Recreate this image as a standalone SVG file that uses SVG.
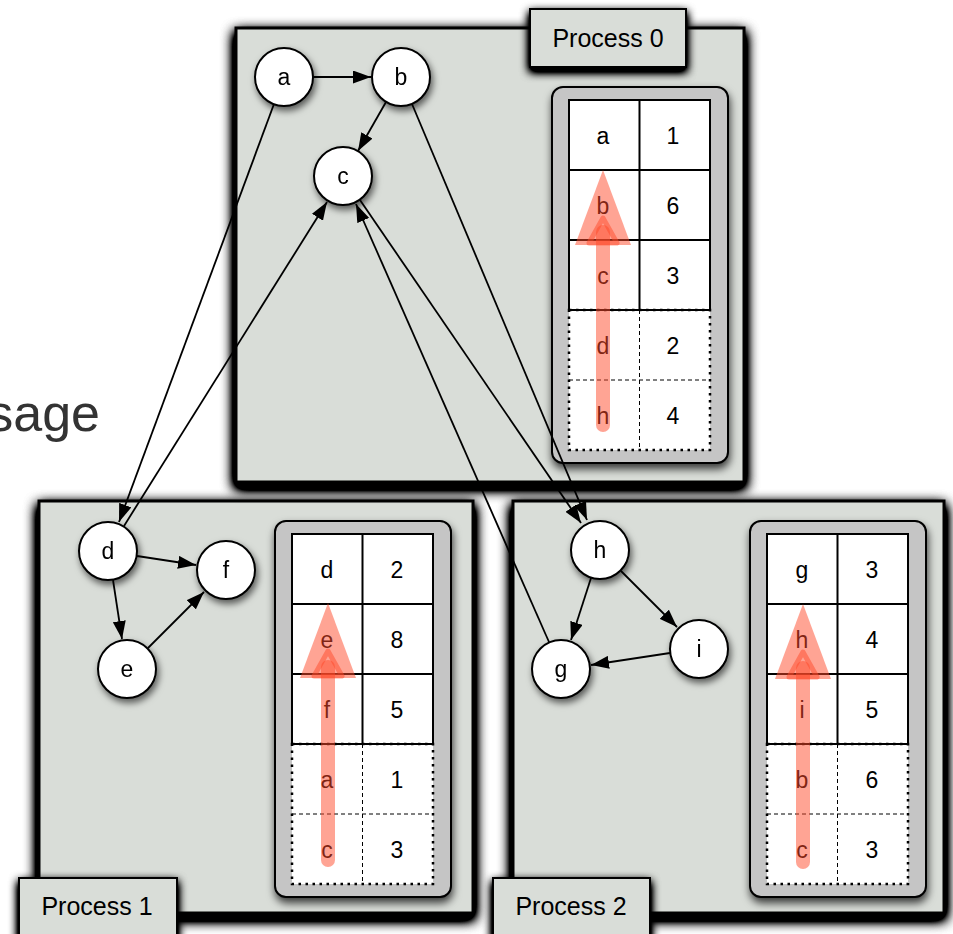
<svg xmlns="http://www.w3.org/2000/svg" width="953" height="934" viewBox="0 0 953 934">
  <defs>
    <!-- heavy dark halo under the process boxes -->
    <filter id="boxShadow" x="-10%" y="-10%" width="120%" height="125%">
      <feGaussianBlur in="SourceAlpha" stdDeviation="6.5"/>
      <feOffset dx="0" dy="5" result="blur"/>
      <feComponentTransfer in="blur" result="dark">
        <feFuncA type="linear" slope="2.6"/>
      </feComponentTransfer>
      <feMerge><feMergeNode in="dark"/><feMergeNode in="SourceGraphic"/></feMerge>
    </filter>
    <filter id="softShadow" x="-30%" y="-30%" width="160%" height="160%">
      <feDropShadow dx="2" dy="4" stdDeviation="3.5" flood-color="#000" flood-opacity="0.6"/>
    </filter>
    <filter id="tabShadow" x="-20%" y="-30%" width="140%" height="160%">
      <feGaussianBlur in="SourceAlpha" stdDeviation="5"/>
      <feOffset dx="0" dy="4" result="blur"/>
      <feComponentTransfer in="blur" result="dark">
        <feFuncA type="linear" slope="2"/>
      </feComponentTransfer>
      <feMerge><feMergeNode in="dark"/><feMergeNode in="SourceGraphic"/></feMerge>
    </filter>
    <filter id="tblShadow" x="-20%" y="-10%" width="140%" height="120%">
      <feDropShadow dx="1" dy="5" stdDeviation="4" flood-color="#000" flood-opacity="0.75"/>
    </filter>
    <marker id="ah" viewBox="0 0 18 13" refX="18" refY="6.5" markerWidth="18" markerHeight="13" markerUnits="userSpaceOnUse" orient="auto">
      <path d="M0,0 L18,6.5 L0,13 z" fill="#000"/>
    </marker>
    <style>
      .box { fill: #d9ddd8; stroke: #000; stroke-width: 3; }
      .tab { fill: #d9ddd8; stroke: #000; stroke-width: 2; }
      .tabtxt { font-family: "Liberation Sans", Arial, sans-serif; font-size: 25px; text-anchor: middle; fill: #000; }
      .node circle { fill: #fff; stroke: #000; stroke-width: 2; }
      .node text { font-family: "Liberation Sans", Arial, sans-serif; font-size: 23px; text-anchor: middle; fill: #000; }
      .outer { fill: #c5c5c5; stroke: #000; stroke-width: 2; }
      .bg { fill: #fff; }
      .grid { fill: none; stroke: #000; stroke-width: 2; }
      .dotted { fill: none; stroke: #000; stroke-width: 2.5; stroke-dasharray: 2.5 4.5; }
      .dash { fill: none; stroke: #000; stroke-width: 1; stroke-dasharray: 4 3; }
      .cell { font-family: "Liberation Sans", Arial, sans-serif; font-size: 23px; text-anchor: middle; fill: #000; }
      .hl { fill: #ff4a2a; opacity: 0.5; }
      .hl-line { fill: none; stroke: #ff4a2a; opacity: 0.5; }
      .edge { fill: none; stroke: #000; stroke-width: 1.8; marker-end: url(#ah); }
      .title { font-family: "Liberation Sans", Arial, sans-serif; font-size: 52px; fill: #333; }
    </style>
  </defs>

  <rect width="953" height="934" fill="#fff"/>

  <!-- partial heading at the left edge -->
  <text class="title" x="100" y="431" text-anchor="end">sage</text>

  <!-- Process 1 -->
  <g id="process1">
    <rect class="box" x="39" y="501" width="434" height="412" filter="url(#boxShadow)"/>
    <g id="table1" transform="translate(275,521)">
      <rect class="outer" x="0" y="0" width="176" height="376" rx="11" filter="url(#tblShadow)"/>
      <rect class="bg" x="17" y="13" width="141" height="350"/>
      <rect class="grid" x="17" y="13" width="141" height="210"/>
      <path class="grid" d="M87.5,13 V223 M17,83 H158 M17,153 H158"/>
      <rect class="dotted" x="17" y="223" width="141" height="140"/>
      <path class="dash" d="M87.5,223 V363 M17,293 H158"/>
      <text class="cell" x="52" y="57">d</text><text class="cell" x="122" y="57">2</text>
      <text class="cell" x="52" y="127">e</text><text class="cell" x="122" y="127">8</text>
      <text class="cell" x="52" y="197">f</text><text class="cell" x="122" y="197">5</text>
      <text class="cell" x="52" y="267">a</text><text class="cell" x="122" y="267">1</text>
      <text class="cell" x="52" y="337">c</text><text class="cell" x="122" y="337">3</text>
      <line class="hl-line" x1="53" y1="339" x2="53" y2="146" stroke-width="14" stroke-linecap="round"/>
      <polygon class="hl" points="53,82 81,157 25,157"/>
      <polygon class="hl-line" points="53,130 67,155 39,155" stroke-width="5" stroke-linejoin="round"/>
    </g>
    <rect class="tab" x="19" y="878" width="158" height="70" filter="url(#tabShadow)"/>
    <text class="tabtxt" x="97" y="915">Process 1</text>
  </g>

  <!-- Process 2 -->
  <g id="process2">
    <rect class="box" x="513" y="501" width="431" height="412" filter="url(#boxShadow)"/>
    <g id="table2" transform="translate(750,521)">
      <rect class="outer" x="0" y="0" width="176" height="376" rx="11" filter="url(#tblShadow)"/>
      <rect class="bg" x="17" y="13" width="141" height="350"/>
      <rect class="grid" x="17" y="13" width="141" height="210"/>
      <path class="grid" d="M87.5,13 V223 M17,83 H158 M17,153 H158"/>
      <rect class="dotted" x="17" y="223" width="141" height="140"/>
      <path class="dash" d="M87.5,223 V363 M17,293 H158"/>
      <text class="cell" x="52" y="57">g</text><text class="cell" x="122" y="57">3</text>
      <text class="cell" x="52" y="127">h</text><text class="cell" x="122" y="127">4</text>
      <text class="cell" x="52" y="197">i</text><text class="cell" x="122" y="197">5</text>
      <text class="cell" x="52" y="267">b</text><text class="cell" x="122" y="267">6</text>
      <text class="cell" x="52" y="337">c</text><text class="cell" x="122" y="337">3</text>
      <line class="hl-line" x1="53" y1="341" x2="53" y2="147" stroke-width="14" stroke-linecap="round"/>
      <polygon class="hl" points="53,83 81,158 25,158"/>
      <polygon class="hl-line" points="53,131 67,156 39,156" stroke-width="5" stroke-linejoin="round"/>
    </g>
    <rect class="tab" x="493" y="878" width="157" height="70" filter="url(#tabShadow)"/>
    <text class="tabtxt" x="571" y="915">Process 2</text>
  </g>

  <!-- Process 0 -->
  <g id="process0">
    <rect class="box" x="236" y="28" width="508" height="454" filter="url(#boxShadow)"/>
    <rect class="tab" x="530" y="9" width="156" height="58" filter="url(#tabShadow)"/>
    <text class="tabtxt" x="608" y="47">Process 0</text>
    <g id="table0" transform="translate(552,87)">
      <rect class="outer" x="0" y="0" width="176" height="376" rx="11" filter="url(#tblShadow)"/>
      <rect class="bg" x="17" y="13" width="141" height="350"/>
      <rect class="grid" x="17" y="13" width="141" height="210"/>
      <path class="grid" d="M87.5,13 V223 M17,83 H158 M17,153 H158"/>
      <rect class="dotted" x="17" y="223" width="141" height="140"/>
      <path class="dash" d="M87.5,223 V363 M17,293 H158"/>
      <text class="cell" x="51" y="57">a</text><text class="cell" x="121" y="57">1</text>
      <text class="cell" x="51" y="127">b</text><text class="cell" x="121" y="127">6</text>
      <text class="cell" x="51" y="197">c</text><text class="cell" x="121" y="197">3</text>
      <text class="cell" x="51" y="267">d</text><text class="cell" x="121" y="267">2</text>
      <text class="cell" x="51" y="337">h</text><text class="cell" x="121" y="337">4</text>
      <line class="hl-line" x1="51" y1="338" x2="51" y2="145" stroke-width="14" stroke-linecap="round"/>
      <polygon class="hl" points="51,83 79,158 23,158"/>
      <polygon class="hl-line" points="51,131 65,156 37,156" stroke-width="5" stroke-linejoin="round"/>
    </g>
  </g>

  <!-- graph nodes -->
  <g id="node-a" class="node" filter="url(#softShadow)"><circle cx="284" cy="77" r="29"/><text x="284" y="85">a</text></g>
  <g id="node-b" class="node" filter="url(#softShadow)"><circle cx="401" cy="77" r="29"/><text x="401" y="85">b</text></g>
  <g id="node-c" class="node" filter="url(#softShadow)"><circle cx="343" cy="176" r="29"/><text x="343" y="184">c</text></g>
  <g id="node-d" class="node" filter="url(#softShadow)"><circle cx="108" cy="551" r="29"/><text x="108" y="559">d</text></g>
  <g id="node-e" class="node" filter="url(#softShadow)"><circle cx="127" cy="669" r="29"/><text x="127" y="677">e</text></g>
  <g id="node-f" class="node" filter="url(#softShadow)"><circle cx="226" cy="570" r="29"/><text x="226" y="578">f</text></g>
  <g id="node-h" class="node" filter="url(#softShadow)"><circle cx="600" cy="550" r="29"/><text x="600" y="558">h</text></g>
  <g id="node-g" class="node" filter="url(#softShadow)"><circle cx="561" cy="669" r="29"/><text x="561" y="677">g</text></g>
  <g id="node-i" class="node" filter="url(#softShadow)"><circle cx="699" cy="649" r="29"/><text x="699" y="657">i</text></g>

  <!-- connectors -->
  <g id="edges">
    <line class="edge" x1="313" y1="77" x2="371" y2="77"/>
    <line class="edge" x1="386" y1="102" x2="358" y2="151"/>
    <line class="edge" x1="274" y1="104" x2="119" y2="522" stroke-width="2.2"/>
    <line class="edge" x1="124" y1="526" x2="327" y2="202" stroke-width="2.2"/>
    <line class="edge" x1="412" y1="104" x2="587" y2="520"/>
    <line class="edge" x1="360" y1="200" x2="581" y2="523"/>
    <line class="edge" x1="549" y1="642" x2="356" y2="204"/>
    <line class="edge" x1="137" y1="556" x2="196" y2="565"/>
    <line class="edge" x1="113" y1="580" x2="122" y2="639"/>
    <line class="edge" x1="148" y1="648" x2="204" y2="592"/>
    <line class="edge" x1="591" y1="578" x2="571" y2="640"/>
    <line class="edge" x1="621" y1="571" x2="677" y2="627"/>
    <line class="edge" x1="670" y1="653" x2="591" y2="665"/>
  </g>
</svg>
